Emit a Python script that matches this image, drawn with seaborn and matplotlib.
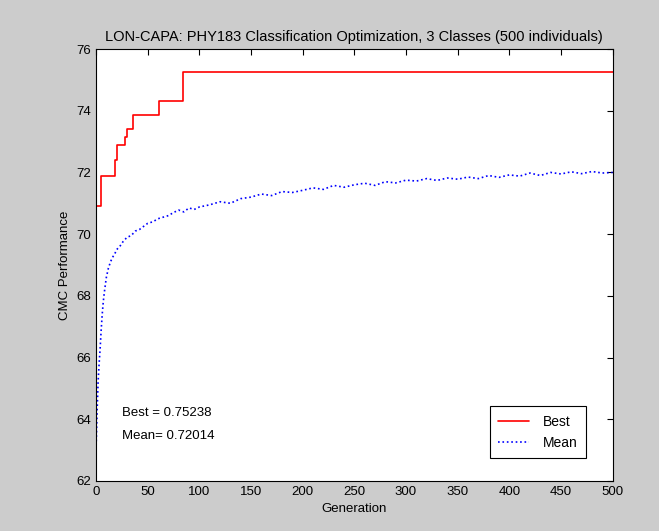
import pandas as pd
import matplotlib
matplotlib.use("Agg")
import matplotlib.pyplot as plt
import seaborn as sns

# Best fitness per generation (step changes only)
best_gen = [0, 5, 18, 20, 28, 30, 36, 61, 84, 500]
best_val = [70.9, 71.9, 72.4, 72.9, 73.15, 73.4, 73.85, 74.3, 75.24, 75.24]

# Mean fitness per generation
mean_gen = [0, 1, 2, 3, 4, 5, 6, 7, 8, 10, 12, 14, 16, 18, 20, 23, 26, 30, 34, 38,
            42, 46, 50, 55, 60, 65, 70, 75, 80, 85, 90, 95, 100, 110, 120, 130, 140,
            150, 160, 170, 180, 190, 200, 210, 220, 230, 240, 250, 260, 270, 280,
            290, 300, 310, 320, 330, 340, 350, 360, 370, 380, 390, 400, 410, 420,
            430, 440, 450, 460, 470, 480, 490, 500]
mean_val = [63.0, 64.2, 65.2, 65.8, 66.3, 66.9, 67.4, 67.8, 68.1, 68.6, 68.9, 69.1,
            69.25, 69.35, 69.5, 69.6, 69.75, 69.9, 69.95, 70.1, 70.15, 70.25, 70.35,
            70.4, 70.5, 70.55, 70.6, 70.7, 70.78, 70.72, 70.85, 70.8, 70.88, 70.95,
            71.05, 71.0, 71.15, 71.2, 71.3, 71.25, 71.38, 71.35, 71.42, 71.5, 71.45,
            71.58, 71.52, 71.6, 71.65, 71.58, 71.7, 71.66, 71.75, 71.72, 71.8, 71.74,
            71.82, 71.78, 71.85, 71.8, 71.9, 71.84, 71.92, 71.88, 71.98, 71.9, 72.0,
            71.95, 72.02, 71.96, 72.03, 71.98, 72.0]

best_df = pd.DataFrame({"Generation": best_gen, "Value": best_val})
mean_df = pd.DataFrame({"Generation": mean_gen, "Value": mean_val})

sns.set_style("white")
plt.rcParams['font.family'] = ['Liberation Sans', 'DejaVu Sans']
plt.rcParams['text.color'] = 'black'
plt.rcParams['axes.labelcolor'] = 'black'
plt.rcParams['xtick.color'] = 'black'
plt.rcParams['ytick.color'] = 'black'

fig = plt.figure(figsize=(6.59, 5.31), dpi=100, facecolor='#cccccc')
ax = fig.add_axes([0.1457, 0.0942, 0.784, 0.8135])
ax.set_facecolor('white')

sns.lineplot(data=best_df, x="Generation", y="Value", ax=ax, color='red',
             drawstyle='steps-post', linewidth=1.2, label='Best')
sns.lineplot(data=mean_df, x="Generation", y="Value", ax=ax, color='blue',
             linestyle=':', linewidth=1.2, label='Mean')

ax.set_xlim(0, 500)
ax.set_ylim(62, 76)
ax.set_xticks(range(0, 501, 50))
ax.set_yticks(range(62, 77, 2))
ax.tick_params(direction='in', top=True, right=True, length=4, labelsize=9.5,
               color='black', width=0.8)
for s in ax.spines.values():
    s.set_color('black')
    s.set_linewidth(0.8)

ax.set_title('LON-CAPA: PHY183 Classification Optimization, 3 Classes (500 individuals)',
             fontsize=10.5, pad=6)
ax.set_xlabel('Generation', fontsize=9.5)
ax.set_ylabel('CMC Performance', fontsize=9.5)

ax.text(25, 64.2, 'Best = 0.75238', fontsize=9.5, va='center')
ax.text(25, 63.45, 'Mean= 0.72014', fontsize=9.5, va='center')

leg = ax.legend(loc='lower right', bbox_to_anchor=(0.948, 0.053), fontsize=10,
                fancybox=False, framealpha=1, edgecolor='black', borderaxespad=0,
                handlelength=2.2, handletextpad=1.0, borderpad=0.6, labelspacing=0.5)
leg.get_frame().set_linewidth(0.8)

fig.savefig('out.png', dpi=100, facecolor=fig.get_facecolor())
